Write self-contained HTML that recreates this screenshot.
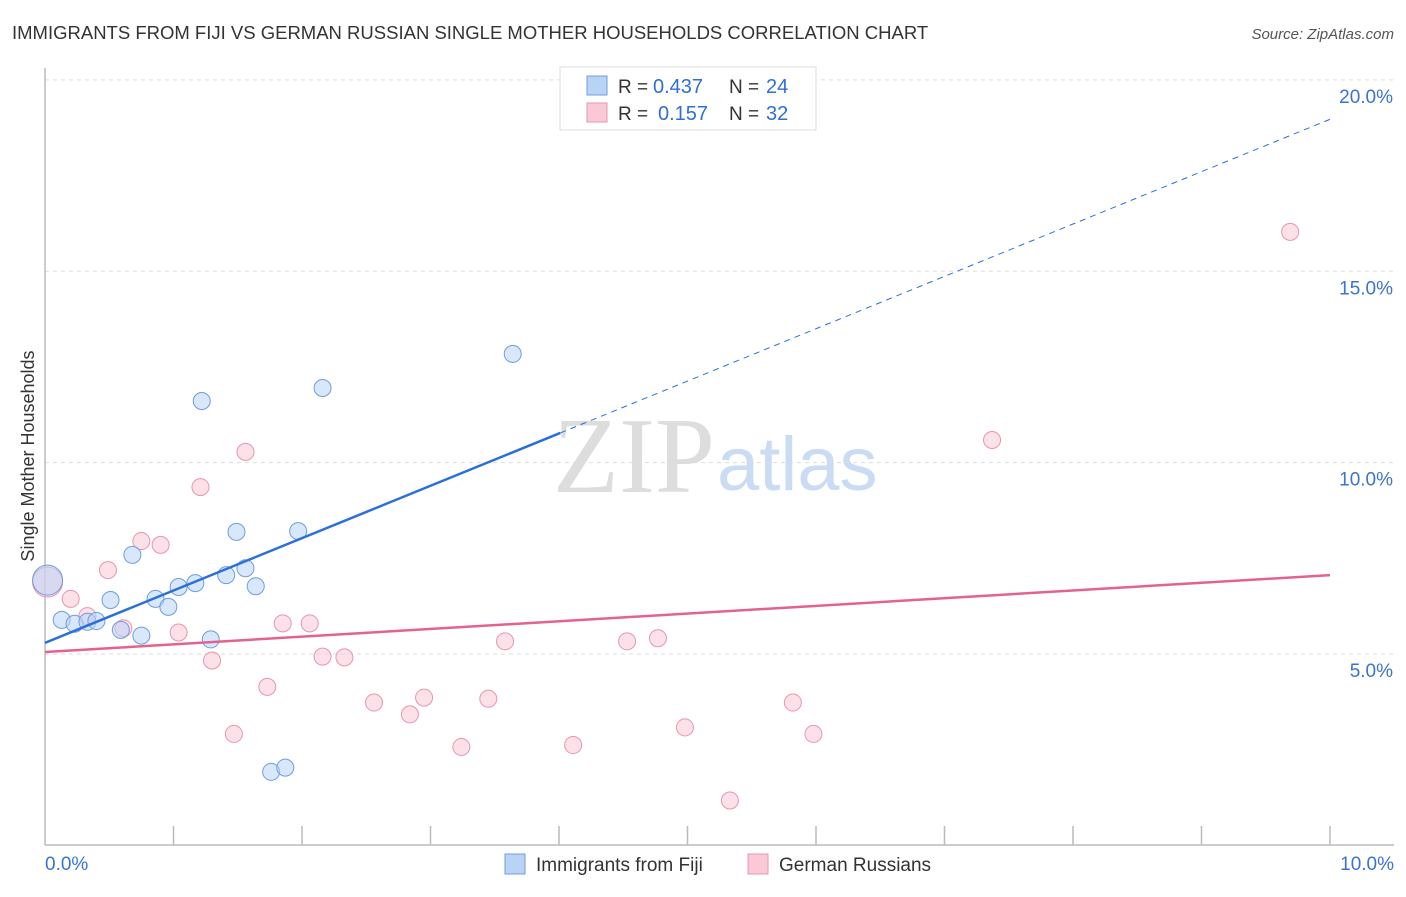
<!DOCTYPE html>
<html><head><meta charset="utf-8"><style>
body{margin:0;background:#fff;font-family:"Liberation Sans",sans-serif}
</style></head><body>
<svg width="1406" height="892" xmlns="http://www.w3.org/2000/svg" font-family="Liberation Sans, sans-serif">
<text x="12" y="39" font-size="18.5" fill="#333">IMMIGRANTS FROM FIJI VS GERMAN RUSSIAN SINGLE MOTHER HOUSEHOLDS CORRELATION CHART</text>
<text x="1394" y="39" font-size="15" fill="#555" font-style="italic" text-anchor="end">Source: ZipAtlas.com</text>
<text x="715" y="492" font-size="108" fill="#ddd" text-anchor="end" font-family="Liberation Serif, serif">ZIP</text>
<text x="717" y="490" font-size="76" fill="#c9dcf3">atlas</text>
<g id="grid"></g>
<g id="axes"></g>
<g id="marks"></g>
<text transform="translate(34,456) rotate(-90)" font-size="18" fill="#333" text-anchor="middle">Single Mother Households</text>
<g>
<rect x="560" y="67" width="256" height="63" fill="#fff" stroke="#ddd"/>
<rect x="587" y="76" width="20" height="19" fill="#b9d3f5" stroke="#6d9ee0"/>
<rect x="587" y="103" width="20" height="19" fill="#f9c9d6" stroke="#e995ae"/>
<text x="618" y="93" font-size="19" fill="#333">R =</text>
<text x="653" y="93" font-size="20" fill="#2f6fd6">0.437</text>
<text x="729" y="93" font-size="19" fill="#333">N =</text>
<text x="766" y="93" font-size="20" fill="#2f6fd6">24</text>
<text x="618" y="120" font-size="19" fill="#333">R =</text>
<text x="658" y="120" font-size="20" fill="#2f6fd6">0.157</text>
<text x="729" y="120" font-size="19" fill="#333">N =</text>
<text x="766" y="120" font-size="20" fill="#2f6fd6">32</text>
</g>
<g>
<rect x="505" y="854" width="20" height="20" fill="#b9d3f5" stroke="#6d9ee0"/>
<text x="536" y="871" font-size="19" fill="#333">Immigrants from Fiji</text>
<rect x="748" y="854" width="20" height="20" fill="#f9c9d6" stroke="#e995ae"/>
<text x="779" y="871" font-size="19" fill="#333">German Russians</text>
</g>
</svg>
<script>
const fijiX=[0.02,0.13,0.23,0.33,0.40,0.51,0.59,0.68,0.75,0.86,0.96,1.04,1.17,1.22,1.29,1.41,1.49,1.56,1.64,1.76,1.87,1.97,2.16,3.64];
const fijiY=[6.93,5.89,5.79,5.84,5.86,6.41,5.63,7.59,5.48,6.44,6.23,6.75,6.85,11.61,5.38,7.06,8.19,7.24,6.77,1.92,2.03,8.21,11.95,12.84];
const grX=[0.02,0.20,0.33,0.49,0.61,0.75,0.90,1.04,1.21,1.30,1.47,1.56,1.73,1.85,2.06,2.16,2.33,2.56,2.84,2.95,3.24,3.45,3.58,4.11,4.53,4.77,4.98,5.33,5.82,5.98,7.37,9.69];
const grY=[6.88,6.44,5.99,7.19,5.67,7.95,7.85,5.56,9.36,4.83,2.91,10.28,4.14,5.80,5.80,4.93,4.91,3.73,3.42,3.86,2.57,3.83,5.33,2.62,5.33,5.41,3.08,1.17,3.73,2.91,10.59,16.03];
const yTicks=[5,10,15,20];
const yTickLabels=["5.0%","10.0%","15.0%","20.0%"];
const fijiTrend=[5.29,18.97];
const grTrend=[5.05,7.06];
const NS="http://www.w3.org/2000/svg";
const X=v=>45+v*128.5, Y=v=>845.3-v*38.27;
function mk(p,t,a){const e=document.createElementNS(NS,t);for(const k in a)e.setAttribute(k,a[k]);document.getElementById(p).appendChild(e);return e;}
yTicks.forEach((t,i)=>{
 const l=mk('grid','line',{x1:45,x2:1394,y1:Y(t),y2:Y(t),stroke:'#ddd','stroke-dasharray':'4,4'});
 
 
 const tx=mk('grid','text',{x:1393,y:Y(t)+23,'font-size':19,fill:'#3b73d1','text-anchor':'end'});
 tx.textContent=yTickLabels[i];
 
 
});
let a=mk('axes','line',{x1:45,x2:45,y1:68,y2:845,stroke:'#bbb','stroke-width':1.5});


a=mk('axes','line',{x1:45,x2:1394,y1:845,y2:845,stroke:'#bbb','stroke-width':1.5});


for(let i=1;i<=10;i++){const t=mk('axes','line',{x1:X(i),x2:X(i),y1:826,y2:845,stroke:'#bbb','stroke-width':1.5});
 
 }
let t0=mk('axes','text',{x:45,y:870,'font-size':19,fill:'#3b73d1'});t0.textContent='0.0%';


let t1=mk('axes','text',{x:1394,y:870,'font-size':19,fill:'#3b73d1','text-anchor':'end'});t1.textContent='10.0%';


function dot(x,y,fill,stroke,nm){const r=x<0.05?15:8.5;const c=mk('marks','circle',{cx:X(x),cy:Y(y),r:r,fill:fill,'fill-opacity':0.55,stroke:stroke,'stroke-width':1});
 
 }
grX.forEach((x,i)=>dot(x,grY[i],'#f9c9d6','#e995ae','german-russian-point'));
fijiX.forEach((x,i)=>dot(x,fijiY[i],'#b9d3f5','#6d9ee0','fiji-point'));
const sl=(fijiTrend[1]-fijiTrend[0])/10, xe=4.01;
let l=mk('marks','line',{x1:X(0),y1:Y(fijiTrend[0]),x2:X(xe),y2:Y(fijiTrend[0]+sl*xe),stroke:'#2a6fdb','stroke-width':2.5});


l=mk('marks','line',{x1:X(xe),y1:Y(fijiTrend[0]+sl*xe),x2:X(10),y2:Y(fijiTrend[1]),stroke:'#2a6fdb','stroke-width':1,'stroke-dasharray':'6,5'});


l=mk('marks','line',{x1:X(0),y1:Y(grTrend[0]),x2:X(10),y2:Y(grTrend[1]),stroke:'#e4628e','stroke-width':2.5});


</script>
</body></html>
